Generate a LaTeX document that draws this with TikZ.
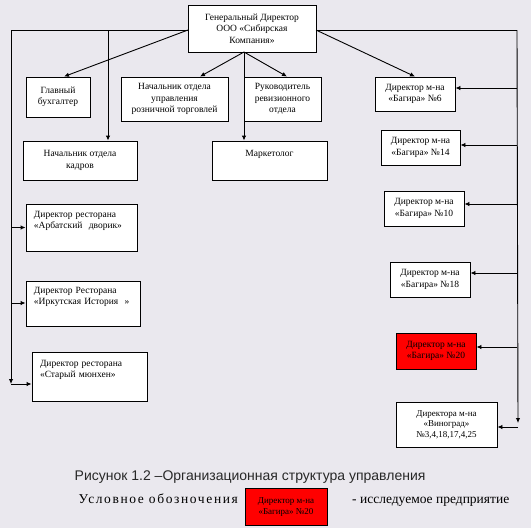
\documentclass[tikz,border=0pt]{standalone}
\usepackage{fontspec}
\setmainfont{Liberation Serif}
\newfontfamily\capfont{Liberation Sans}
\newfontfamily\spacedfont[LetterSpace=12]{Liberation Serif}
\usetikzlibrary{arrows.meta}
\definecolor{bgc}{RGB}{234,232,238}
\definecolor{capc}{RGB}{40,40,40}
\begin{document}
\begin{tikzpicture}[x=1pt,y=-1pt,
  box/.style={draw=black, fill=white, line width=0.9pt, inner sep=0pt, align=center,
    font=\fontsize{9.5}{11.5}\selectfont},
  lbox/.style={box, align=left},
  redbox/.style={box, fill=red},
  conn/.style={line width=0.9pt},
  arr/.style={conn, -{Latex[length=5pt,width=4.5pt]}}]
\fill[bgc] (0,0) rectangle (531,528);
\useasboundingbox (0,0) rectangle (531,528);

% nodes
\node[box, minimum width=128, minimum height=47] (gd) at (252,28.5) {Генеральный Директор\\ООО «Сибирская\\Компания»};
\node[box, minimum width=64, minimum height=40] (buh) at (58,97) {Главный\\бухгалтер};
\node[box, minimum width=107, minimum height=44] (nach) at (174.5,99) {Начальник отдела\\управления\\розничной торговлей};
\node[box, minimum width=77, minimum height=44] (ruk) at (282.5,99) {Руководитель\\ревизионного\\отдела};
\node[box, minimum width=80, minimum height=34] (b6) at (415,94) {Директор м-на\\«Багира» №6};
\node[box, minimum width=114, minimum height=39] (kadr) at (80,160.5) {Начальник отдела\\кадров};
\node[box, minimum width=115, minimum height=39] (mark) at (269.5,160.5) {Маркетолог\\\strut};
\node[box, minimum width=79, minimum height=35] (b14) at (420.5,147.5) {Директор м-на\\«Багира» №14};
\node[box, minimum width=80, minimum height=35] (b10) at (424,208.5) {Директор м-на\\«Багира» №10};
\node[box, minimum width=80, minimum height=35] (b18) at (430,279.5) {Директор м-на\\«Багира» №18};
\node[redbox, minimum width=80, minimum height=36] (b20) at (436,351) {Директор м-на\\«Багира» №20};
\node[box, minimum width=101, minimum height=45, font=\fontsize{9}{10.5}\selectfont] (vin) at (446.5,424.5) {Директора м-на\\«Виноград»\\№3,4,18,17,4,25};
\node[lbox, minimum width=111, minimum height=47, text width=95] (arb) at (81.5,227.5) {Директор ресторана\\«Арбатский~ дворик»\\\strut};
\node[lbox, minimum width=114, minimum height=45, text width=98] (irk) at (83,303.5) {Директор Ресторана\\«Иркутская История~ »\\\strut};
\node[lbox, minimum width=115, minimum height=49, text width=99] (star) at (89.5,376.5) {Директор ресторана\\«Старый мюнхен»\\\strut};

% junction coordinates
\coordinate (gdL) at (188,30);
\coordinate (gdR) at (316,30);
\coordinate (gdB) at (244,52);
\coordinate (lft) at (11,30);
\coordinate (mid) at (108,30);
\coordinate (rgt) at (517,30);
\coordinate (lbot) at (11,384);
\coordinate (rbot) at (518,423);

% connectors from general director
\draw[arr] (gdL) -- (buh.north -| 64,0);
\draw[arr] (gdB) -- (nach.north -| 200,0);
\draw[arr] (gdB) -- (ruk.north -| 287,0);
\draw[arr] (gdR) -- (b6.north -| 415,0);
\draw[arr] (gdB) -- (mark.north -| gdB);
\draw[conn] (gdL) -- (lft);
\draw[conn] (gdR) -- (rgt);
\draw[arr] (mid) -- (kadr.north -| mid);

% left trunk
\draw[arr] (lft) -- (lbot);
\draw[arr] (lft |- arb.west) -- (arb.west);
\draw[arr] (lft |- 0,303) -- (irk.west |- 0,303);
\draw[arr] (lbot) -- (star.west |- lbot);

% right trunk
\draw[arr] (rgt) -- (rbot);
\draw[arr] (rgt |- 0,88) -- (b6.east |- 0,88);
\draw[arr] (rgt |- 0,145) -- (b14.east |- 0,145);
\draw[arr] (rgt |- 0,204) -- (b10.east |- 0,204);
\draw[arr] (rgt |- 0,273) -- (b18.east |- 0,273);
\draw[arr] (rgt |- 0,347) -- (b20.east |- 0,347);
\draw[arr] (518,427) -- (vin.east |- 0,427);

% caption and legend
\node[anchor=base west, inner sep=0pt, text=capc, font=\capfont\fontsize{14}{16}\selectfont] (cap) at (74.5,480) {Рисунок 1.2 –Организационная структура управления};
\node[anchor=base west, inner sep=0pt, font=\spacedfont\fontsize{13.5}{16}\selectfont] (leg) at (78.5,503) {Условное обозночения};
\node[redbox, minimum width=82, minimum height=37, font=\fontsize{9}{11}\selectfont] (legbox) at (286,507) {Директор м-на\\«Багира» №20};
\node[anchor=base west, inner sep=0pt, font=\fontsize{13.5}{16}\selectfont] (legtxt) at (352,503) {- исследуемое предприятие};
\end{tikzpicture}
\end{document}
